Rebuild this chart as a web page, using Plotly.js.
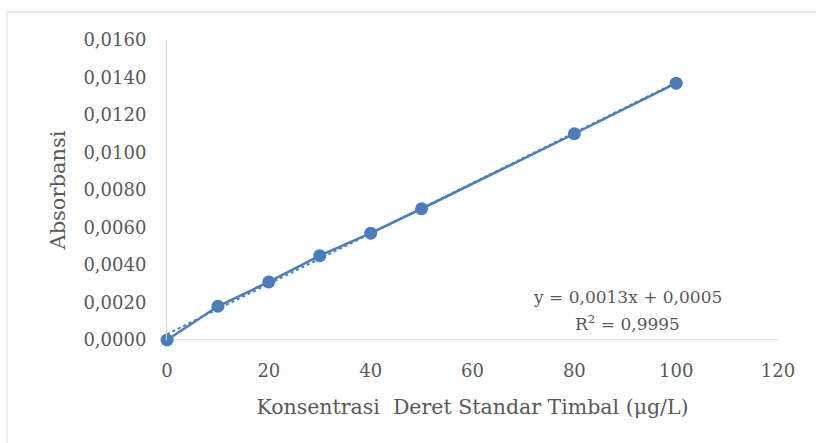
<!DOCTYPE html>
<html>
<head>
<meta charset="utf-8">
<script src="https://cdn.plot.ly/plotly-3.0.1.min.js"></script>
<style>
html,body{margin:0;padding:0;background:#fff;}
#chart{width:816px;height:443px;}
</style>
</head>
<body>
<div id="chart"></div>
<script>
const konsentrasi = [0, 10, 20, 30, 40, 50, 80, 100];
const absorbansi = [0.0000, 0.0018, 0.0031, 0.0045, 0.0057, 0.0070, 0.0110, 0.0137];
const xTickVals = [0, 20, 40, 60, 80, 100, 120];
const yTickVals = [0, 0.002, 0.004, 0.006, 0.008, 0.010, 0.012, 0.014, 0.016];
const equationText = "y = 0,0013x + 0,0005";
const r2Text = "R<sup>2</sup> = 0,9995";

// least-squares trendline from the data
const n = konsentrasi.length;
const mx = konsentrasi.reduce((a,b)=>a+b,0)/n;
const my = absorbansi.reduce((a,b)=>a+b,0)/n;
let sxy = 0, sxx = 0;
for (let i=0;i<n;i++){ sxy += (konsentrasi[i]-mx)*(absorbansi[i]-my); sxx += (konsentrasi[i]-mx)**2; }
const slope = sxy/sxx, intercept = my - slope*mx;
const trendX = [Math.min(...konsentrasi), Math.max(...konsentrasi)];
const trendY = trendX.map(x => intercept + slope*x);

const blue = '#4a7ebb';
const gray = '#595959';
const font = 'DejaVu Serif, Liberation Serif, serif';

const traces = [
  {x: trendX, y: trendY, mode: 'lines', line: {color: blue, width: 2, dash: 'dot'}, hoverinfo: 'skip', cliponaxis: false},
  {x: konsentrasi, y: absorbansi, mode: 'lines+markers', line: {color: blue, width: 2.5},
   marker: {color: blue, size: 13}, cliponaxis: false}
];

const layout = {
  width: 816, height: 443,
  margin: {l: 167, r: 38, t: 40, b: 103},
  paper_bgcolor: '#fff', plot_bgcolor: '#fff',
  showlegend: false,
  separators: ',.',
  font: {family: font, color: gray, size: 18},
  xaxis: {
    range: [0, 120], tickvals: xTickVals, tickformat: 'd',
    showgrid: false, zeroline: false, showline: false,
    ticks: 'outside', ticklen: 14, tickcolor: 'rgba(0,0,0,0)',
    tickfont: {family: font, size: 18, color: gray},
    title: {text: 'Konsentrasi  Deret Standar Timbal (μg/L)', font: {family: font, size: 20.5, color: gray}, standoff: 20}
  },
  yaxis: {
    range: [0, 0.016], tickvals: yTickVals, tickformat: '.4f',
    showgrid: false, zeroline: false, showline: true, linecolor: '#d9d9d9', linewidth: 1,
    ticks: 'outside', ticklen: 16, tickcolor: 'rgba(0,0,0,0)',
    tickfont: {family: font, size: 18, color: gray},
    title: {text: 'Absorbansi', font: {family: font, size: 21, color: gray}, standoff: 12}
  },
  shapes: [
    {type: 'line', xref: 'x', yref: 'y', x0: 0, x1: 120, y0: 0, y1: 0, line: {color: '#d9d9d9', width: 1.5}, layer: 'below'},
    {type: 'rect', xref: 'paper', yref: 'paper', x0: -0.2619, x1: 1.2, y0: -0.5, y1: 1.0933, line: {color: '#d9d9d9', width: 1}, layer: 'below'}
  ],
  annotations: [
    {xref: 'x', yref: 'y', x: 90.5, y: 0.00229, text: equationText, showarrow: false,
     font: {family: font, size: 17, color: gray}},
    {xref: 'x', yref: 'y', x: 90.5, y: 0.00091, text: r2Text, showarrow: false,
     font: {family: font, size: 17, color: gray}}
  ]
};

Plotly.newPlot('chart', traces, layout, {displayModeBar: false, staticPlot: true});
</script>
</body>
</html>
